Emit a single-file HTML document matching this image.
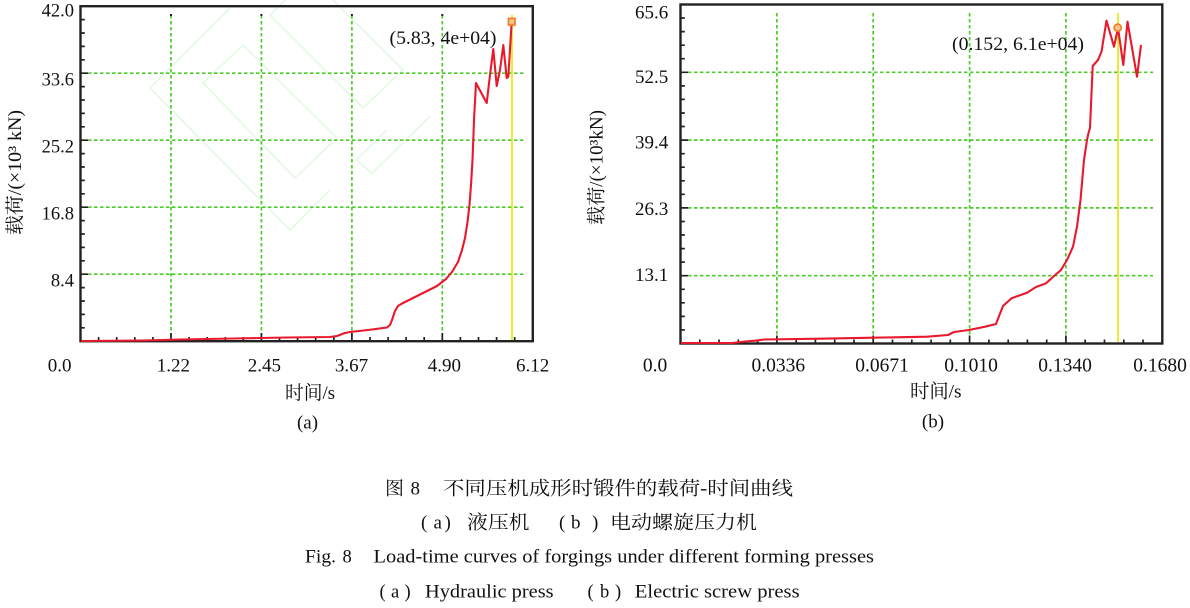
<!DOCTYPE html>
<html><head><meta charset="utf-8"><style>
html,body{margin:0;padding:0;background:#fff;}
svg{display:block;}
.t{font-family:"Liberation Serif","Noto Serif CJK SC",serif;fill:#111;}
.c{font-family:"Liberation Serif","Noto Serif CJK SC",serif;fill:#111;}
</style></head><body>
<svg width="1190" height="608" viewBox="0 0 1190 608" xmlns="http://www.w3.org/2000/svg">
<rect width="1190" height="608" fill="#fff"/>

<!-- watermark (chart a) -->
<g fill="none" stroke="#e2f8e2" stroke-width="1.5">
<polyline points="230,8 218,20 150,88 290,230 330,190"/>
<polygon points="243,45 203,83 295,178 337,138"/>
<polyline points="290,-5 270,15 363,108 403,70 330,-3"/>
<polyline points="386.7,130 356.7,160 371.7,173.3 430,116.7"/>
</g>

<!-- ===== Chart A ===== -->
<g stroke="#4ccc2a" stroke-width="1.7" stroke-dasharray="3.5 2.5" fill="none">
<line x1="171" y1="15" x2="171" y2="341"/>
<line x1="261.4" y1="15" x2="261.4" y2="341"/>
<line x1="351.9" y1="15" x2="351.9" y2="341"/>
<line x1="442.3" y1="15" x2="442.3" y2="341"/>
<line x1="88" y1="73.2" x2="525" y2="73.2"/>
<line x1="88" y1="140.2" x2="525" y2="140.2"/>
<line x1="88" y1="207.2" x2="525" y2="207.2"/>
<line x1="88" y1="274.2" x2="525" y2="274.2"/>
</g>
<g fill="#222">
<rect x="170" y="14" width="2" height="2"/><rect x="260.4" y="14" width="2" height="2"/>
<rect x="350.9" y="14" width="2" height="2"/><rect x="441.3" y="14" width="2" height="2"/>
</g>
<!-- ticks A -->
<g stroke="#222" stroke-width="1.7">
<path d="M80.5,73.2h7.5M80.5,140.2h7.5M80.5,207.2h7.5M80.5,274.2h7.5
M80.5,19.6h4.3M80.5,33h4.3M80.5,46.4h4.3M80.5,59.8h4.3
M80.5,86.6h4.3M80.5,100h4.3M80.5,113.4h4.3M80.5,126.8h4.3
M80.5,153.6h4.3M80.5,167h4.3M80.5,180.4h4.3M80.5,193.8h4.3
M80.5,220.6h4.3M80.5,234h4.3M80.5,247.4h4.3M80.5,260.8h4.3
M80.5,287.6h4.3M80.5,301h4.3M80.5,314.4h4.3M80.5,327.8h4.3"/>
<path d="M171,341v-8M261.4,341v-8M351.9,341v-8M442.3,341v-8
M98.6,341v-4M116.7,341v-4M134.8,341v-4M152.9,341v-4
M189.1,341v-4M207.2,341v-4M225.3,341v-4M243.3,341v-4
M279.5,341v-4M297.6,341v-4M315.7,341v-4M333.8,341v-4
M370,341v-4M388.1,341v-4M406.1,341v-4M424.2,341v-4
M460.4,341v-4M478.5,341v-4M496.6,341v-4M514.7,341v-4"/>
</g>
<rect x="80.5" y="6.2" width="452.3" height="335" fill="none" stroke="#222" stroke-width="2.4"/>
<!-- yellow line A -->
<line x1="512" y1="15" x2="512" y2="340" stroke="#e6e600" stroke-width="1.6"/>
<!-- curve A -->
<path fill="none" stroke="#e8192c" stroke-width="2.1" stroke-linejoin="round" d="M81,341 L143,340.5 L180,339.5 L234,338.5 L287,337.5 L330,337 L337,336 L345,333 L350,332 L368,330 L387,327.5 L390,325 L392,320 L395,311 L398,306 L402,303.5 L421,294 L437,286 L446,279 L452,272 L458,262 L462,250 L465,238 L467.5,222 L469.5,205 L471,185 L472.5,160 L473.3,140 L474,120 L476,83 L486.7,103 L490,75 L493.3,49 L496.7,86 L500,70 L503.3,45 L506.7,78 L508.3,76.7 L511.7,22"/>
<rect x="508.4" y="18.4" width="6.6" height="6.6" fill="#f8c08a" stroke="#f07a20" stroke-width="1.6"/>
<text class="t" x="443" y="44" font-size="19" text-anchor="middle" textLength="107" lengthAdjust="spacingAndGlyphs">(5.83, 4e+04)</text>

<!-- tick labels A -->
<g class="t" font-size="18.5" text-anchor="end">
<text x="74" y="16.7">42.0</text>
<text x="74" y="85.7">33.6</text>
<text x="74" y="152.7">25.2</text>
<text x="74" y="219.7">16.8</text>
<text x="74" y="286.7">8.4</text>
</g>
<g class="t" font-size="19" text-anchor="middle">
<text x="59.6" y="371.7">0.0</text>
<text x="173.4" y="371.7">1.22</text>
<text x="264.4" y="371.7">2.45</text>
<text x="351.5" y="371.7">3.67</text>
<text x="444.4" y="371.7">4.90</text>
<text x="532.6" y="371.7">6.12</text>
</g>
<text class="t" x="310" y="399" font-size="19" text-anchor="middle" textLength="50" lengthAdjust="spacingAndGlyphs">时间/s</text>
<text class="t" x="307.5" y="428.5" font-size="19" text-anchor="middle">(a)</text>
<text class="t" transform="translate(21,172.5) rotate(-90)" font-size="19" text-anchor="middle" textLength="125" lengthAdjust="spacingAndGlyphs">载荷/(×10³ kN)</text>

<!-- ===== Chart B ===== -->
<g stroke="#4ccc2a" stroke-width="1.7" stroke-dasharray="3.5 2.5" fill="none">
<line x1="776.9" y1="13" x2="776.9" y2="343"/>
<line x1="873.2" y1="13" x2="873.2" y2="343"/>
<line x1="969.6" y1="13" x2="969.6" y2="343"/>
<line x1="1065.9" y1="13" x2="1065.9" y2="343"/>
<line x1="688" y1="72.3" x2="1153" y2="72.3"/>
<line x1="688" y1="140.1" x2="1153" y2="140.1"/>
<line x1="688" y1="207.9" x2="1153" y2="207.9"/>
<line x1="688" y1="275.7" x2="1153" y2="275.7"/>
</g>
<g stroke="#222" stroke-width="1.7">
<path d="M680.5,72.3h7.5M680.5,140.1h7.5M680.5,207.9h7.5M680.5,275.7h7.5
M680.5,18h4.3M680.5,31.6h4.3M680.5,45.2h4.3M680.5,58.7h4.3
M680.5,85.9h4.3M680.5,99.4h4.3M680.5,113h4.3M680.5,126.5h4.3
M680.5,153.7h4.3M680.5,167.2h4.3M680.5,180.8h4.3M680.5,194.3h4.3
M680.5,221.5h4.3M680.5,235h4.3M680.5,248.6h4.3M680.5,262.1h4.3
M680.5,289.3h4.3M680.5,302.8h4.3M680.5,316.4h4.3M680.5,329.9h4.3"/>
<path d="M776.9,343.5v-8M873.2,343.5v-8M969.6,343.5v-8M1065.9,343.5v-8
M699.8,343.5v-4M719,343.5v-4M738.3,343.5v-4M757.6,343.5v-4
M796.2,343.5v-4M815.4,343.5v-4M834.7,343.5v-4M854,343.5v-4
M892.5,343.5v-4M911.8,343.5v-4M931.1,343.5v-4M950.3,343.5v-4
M988.9,343.5v-4M1008.2,343.5v-4M1027.4,343.5v-4M1046.7,343.5v-4
M1085.2,343.5v-4M1104.5,343.5v-4M1123.8,343.5v-4M1143,343.5v-4"/>
</g>
<rect x="680.5" y="4.5" width="481.8" height="339" fill="none" stroke="#222" stroke-width="2.4"/>
<line x1="1118" y1="13" x2="1118" y2="342" stroke="#e6e600" stroke-width="1.6"/>
<path fill="none" stroke="#e8192c" stroke-width="2.1" stroke-linejoin="round" d="M681,343 L732,343 L745,341.5 L755,340.7 L764,339.5 L820,338.7 L873,337.7 L927,336.7 L948,335 L954,332 L969,330 L985,326.7 L996,324 L1003,306 L1011.5,298.3 L1027,292.7 L1036,287 L1046,283.3 L1054,276 L1061,270 L1067,260 L1073,246.7 L1077,226.7 L1080.5,200 L1084,160 L1087,140 L1088.5,133 L1090,128 L1092.7,66 L1098,60 L1101.5,51.7 L1106.5,20.7 L1114,46.7 L1118,28 L1123.3,65 L1127.5,21.7 L1137,76.7 L1141,45"/>
<circle cx="1117.7" cy="27.7" r="3.6" fill="#f8c08a" stroke="#f07a20" stroke-width="1.6"/>
<text class="t" x="1018" y="50" font-size="19" text-anchor="middle" textLength="132" lengthAdjust="spacingAndGlyphs">(0.152, 6.1e+04)</text>

<g class="t" font-size="19" text-anchor="end">
<text x="668.3" y="18.3">65.6</text>
<text x="668.3" y="83">52.5</text>
<text x="668.3" y="148.3">39.4</text>
<text x="668.3" y="215">26.3</text>
<text x="668.3" y="281">13.1</text>
</g>
<g class="t" font-size="19.5" text-anchor="middle">
<text x="655" y="371.7">0.0</text>
<text x="778.3" y="371.7">0.0336</text>
<text x="882" y="371.7">0.0671</text>
<text x="971" y="371.7">0.1010</text>
<text x="1065" y="371.7">0.1340</text>
<text x="1160" y="371.7">0.1680</text>
</g>
<text class="t" x="935.8" y="397.5" font-size="19" text-anchor="middle" textLength="51.6" lengthAdjust="spacingAndGlyphs">时间/s</text>
<text class="t" x="933" y="427.5" font-size="19" text-anchor="middle">(b)</text>
<text class="t" transform="translate(602.5,167.5) rotate(-90)" font-size="19" text-anchor="middle" textLength="115" lengthAdjust="spacingAndGlyphs">载荷/(×10³kN)</text>

<!-- ===== Captions ===== -->
<g class="c">
<text x="385" y="494.5" font-size="19">图</text>
<text x="410.5" y="494.5" font-size="19">8</text>
<text x="443" y="494.5" font-size="19" textLength="350" lengthAdjust="spacingAndGlyphs">不同压机成形时锻件的载荷-时间曲线</text>

<text x="421" y="528.5" font-size="19">(</text>
<text x="433.5" y="528.5" font-size="19">a</text>
<text x="444.5" y="528.5" font-size="19">)</text>
<text x="467" y="528.5" font-size="19" textLength="62.5" lengthAdjust="spacingAndGlyphs">液压机</text>
<text x="559" y="528.5" font-size="19">(</text>
<text x="571" y="528.5" font-size="19">b</text>
<text x="592" y="528.5" font-size="19">)</text>
<text x="610" y="528.5" font-size="19" textLength="147" lengthAdjust="spacingAndGlyphs">电动螺旋压力机</text>

<text x="305" y="562.3" font-size="18.5" textLength="31" lengthAdjust="spacingAndGlyphs">Fig.</text>
<text x="342.5" y="562.3" font-size="18.5">8</text>
<text x="373.5" y="562.3" font-size="18.5" textLength="500.5" lengthAdjust="spacingAndGlyphs">Load-time curves of forgings under different forming presses</text>

<text x="379.5" y="597.3" font-size="18.5">(</text>
<text x="391" y="597.3" font-size="18.5">a</text>
<text x="404.5" y="597.3" font-size="18.5">)</text>
<text x="425" y="597.3" font-size="18.5" textLength="128.6" lengthAdjust="spacingAndGlyphs">Hydraulic press</text>
<text x="587.5" y="597.3" font-size="18.5">(</text>
<text x="600" y="597.3" font-size="18.5">b</text>
<text x="615" y="597.3" font-size="18.5">)</text>
<text x="634.8" y="597.3" font-size="18.5" textLength="164.8" lengthAdjust="spacingAndGlyphs">Electric screw press</text>
</g>
</svg>
</body></html>
